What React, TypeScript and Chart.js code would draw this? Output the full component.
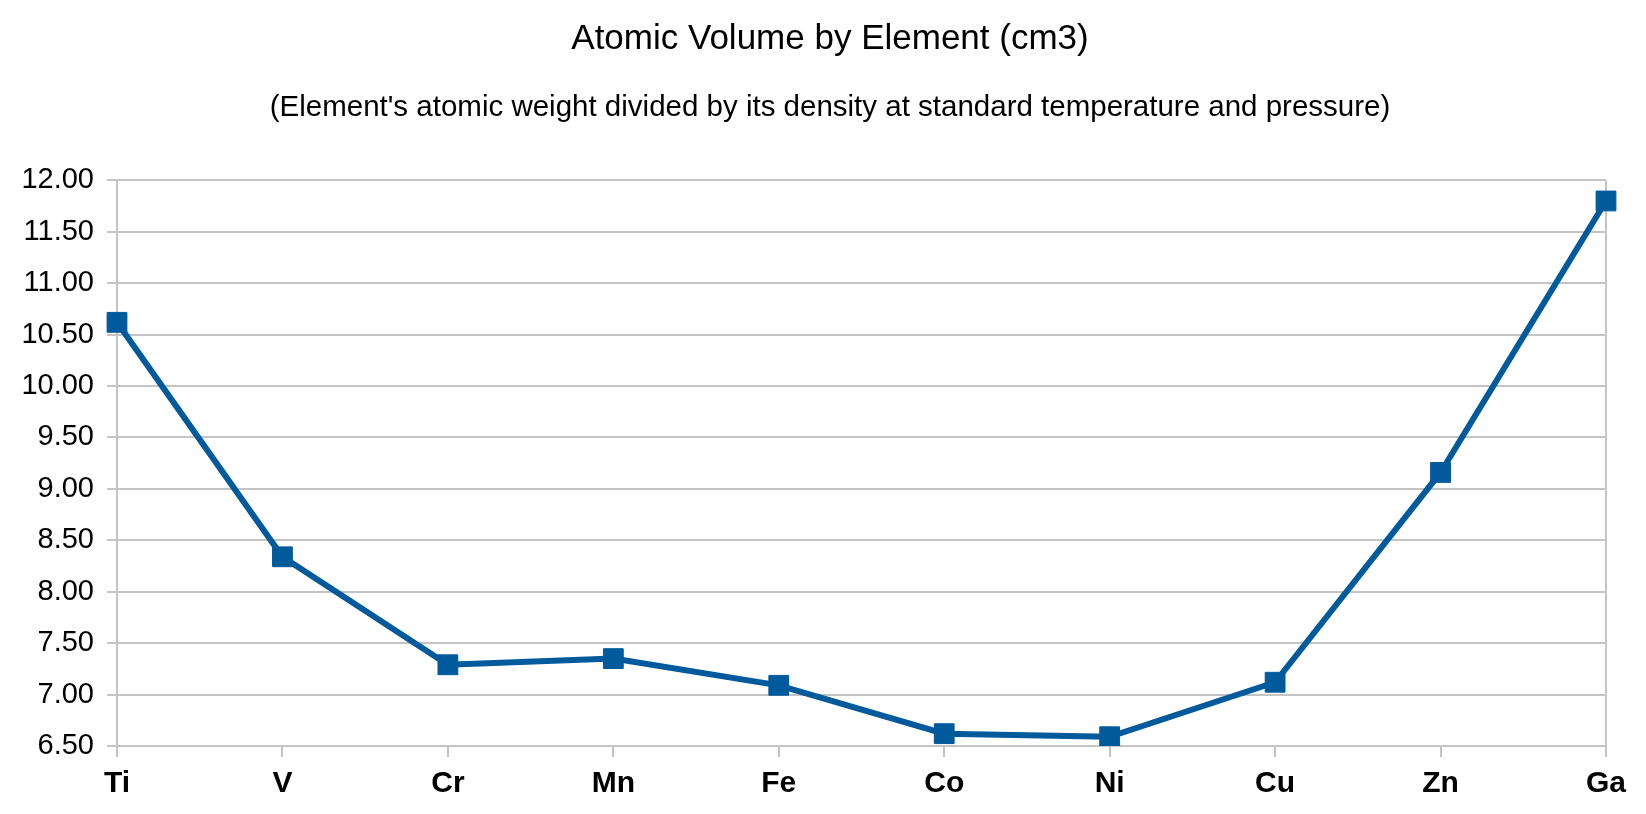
import React, { useEffect, useRef } from "react";
import { Chart, registerables } from "chart.js";

Chart.register(...registerables);

const elements = ["Ti", "V", "Cr", "Mn", "Fe", "Co", "Ni", "Cu", "Zn", "Ga"];
const atomicVolume = [10.62, 8.34, 7.29, 7.35, 7.09, 6.62, 6.59, 7.12, 9.16, 11.8];
const yMin = 6.5;
const yMax = 12;
const yStep = 0.5;
const titleText = "Atomic Volume by Element (cm3)";
const subtitleText =
  "(Element's atomic weight divided by its density at standard temperature and pressure)";

const FONT = '"Liberation Sans", Arial, Helvetica, sans-serif';
const LINE = "#005a9c";
const GRID = "#c4c4c4";

export default function App() {
  const ref = useRef<HTMLCanvasElement | null>(null);

  useEffect(() => {
    if (!ref.current) return;
    const last = elements.length - 1;
    const chart = new Chart(ref.current, {
      type: "line",
      data: {
        labels: elements,
        datasets: [
          {
            label: "Atomic Volume",
            data: atomicVolume,
            borderColor: LINE,
            backgroundColor: LINE,
            borderWidth: 6,
            tension: 0,
            pointStyle: "rect",
            pointRadius: 14,
            pointBorderWidth: 1,
            pointBackgroundColor: LINE,
            pointBorderColor: LINE,
            fill: false,
            yAxisID: "y",
          },
        ],
      },
      options: {
        responsive: true,
        maintainAspectRatio: false,
        animation: false,
        layout: { padding: { left: 14, right: 0, top: 0, bottom: 3 } },
        plugins: {
          legend: { display: false },
          tooltip: { enabled: false },
          title: {
            display: true,
            text: titleText,
            color: "#000",
            font: { family: FONT, size: 35, weight: "normal" },
            padding: { top: 18, bottom: 15 },
          },
          subtitle: {
            display: true,
            text: subtitleText,
            color: "#000",
            font: { family: FONT, size: 29.5, weight: "normal" },
            padding: { top: 15, bottom: 55 },
          },
        },
        scales: {
          x: {
            type: "category",
            offset: false,
            grid: {
              display: true,
              drawOnChartArea: true,
              color: (ctx: any) => (ctx.index === last ? GRID : "rgba(0,0,0,0)"),
              tickColor: GRID,
              lineWidth: 2,
              tickLength: 11,
            },
            border: { display: true, color: GRID, width: 2 },
            ticks: {
              color: "#000",
              padding: 9,
              maxRotation: 0,
              font: { family: FONT, size: 30, weight: "bold" },
            },
          },
          y: {
            position: "left",
            min: yMin,
            max: yMax,
            afterFit: (scale: any) => {
              scale.width = 103;
            },
            grid: {
              color: GRID,
              lineWidth: 2,
              tickLength: 10,
              tickColor: GRID,
            },
            border: { display: true, color: GRID, width: 2 },
            ticks: {
              stepSize: yStep,
              color: "#000",
              padding: 13,
              font: { family: FONT, size: 29 },
              callback: (v: any) => Number(v).toFixed(2),
            },
          },
          yRight: {
            position: "right",
            min: yMin,
            max: yMax,
            afterFit: (scale: any) => {
              scale.width = 40;
            },
            grid: { display: false },
            border: { display: false },
            ticks: { display: false },
          },
        },
      },
    });
    return () => chart.destroy();
  }, []);

  return (
    <div
      style={{
        position: "fixed",
        left: 0,
        top: 0,
        width: 1646,
        height: 814,
        background: "#fff",
      }}
    >
      <canvas ref={ref} />
    </div>
  );
}
